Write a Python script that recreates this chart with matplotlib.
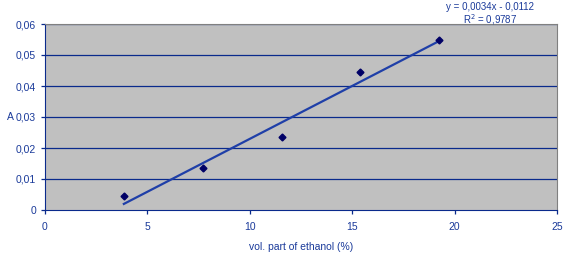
import numpy as np
import matplotlib.pyplot as plt

plt.rcParams['font.family'] = ['Liberation Sans', 'DejaVu Sans']

ethanol = [3.85, 7.7, 11.55, 15.4, 19.25]
absorbance = [0.0045, 0.0137, 0.0237, 0.0445, 0.0548]
x_ticks = [0, 5, 10, 15, 20, 25]
y_ticks = [0, 0.01, 0.02, 0.03, 0.04, 0.05, 0.06]

navy = '#0a2a8c'
text_col = '#1a3a9a'

fig = plt.figure(figsize=(5.69, 2.57), dpi=100)
ax = fig.add_axes([45 / 569, 47 / 257, 512 / 569, 186 / 257])
ax.set_facecolor('#c0c0c0')

for y in y_ticks[1:]:
    ax.axhline(y, color=navy, lw=0.9, zorder=1)

k, b = np.polyfit(ethanol, absorbance, 1)
xs = np.array([ethanol[0], ethanol[-1]])
ax.plot(xs, k * xs + b, color='#1f3fa8', lw=1.6, zorder=2)
ax.plot(ethanol, absorbance, 'D', color='#000066', ms=3.5, zorder=3)

ax.set_xlim(0, 25)
ax.set_ylim(0, 0.06)
ax.set_xticks(x_ticks)
ax.set_yticks(y_ticks)
ax.set_xticklabels([str(v) for v in x_ticks])
ax.set_yticklabels(['0' if v == 0 else f'{v:.2f}'.replace('.', ',') for v in y_ticks])
ax.tick_params(colors=navy, labelcolor=text_col, labelsize=7.5, length=3, width=0.9)
ax.tick_params(axis='x', pad=6)

for s in ['left', 'bottom']:
    ax.spines[s].set_color(navy)
for s in ['top', 'right']:
    ax.spines[s].set_color('#808080')

ax.set_xlabel('vol. part of ethanol (%)', color=text_col, fontsize=7.5, labelpad=7)
ax.set_ylabel('A', color=text_col, fontsize=7.5, rotation=0, labelpad=4, va='center')

fig.text(490 / 569, 1 - 7 / 257, 'y = 0,0034x - 0,0112', color=text_col, fontsize=7, ha='center', va='center')
fig.text(490 / 569, 1 - 20 / 257, 'R$^2$ = 0,9787', color=text_col, fontsize=7, ha='center', va='center')

fig.savefig('out.png', dpi=100, facecolor='white')
